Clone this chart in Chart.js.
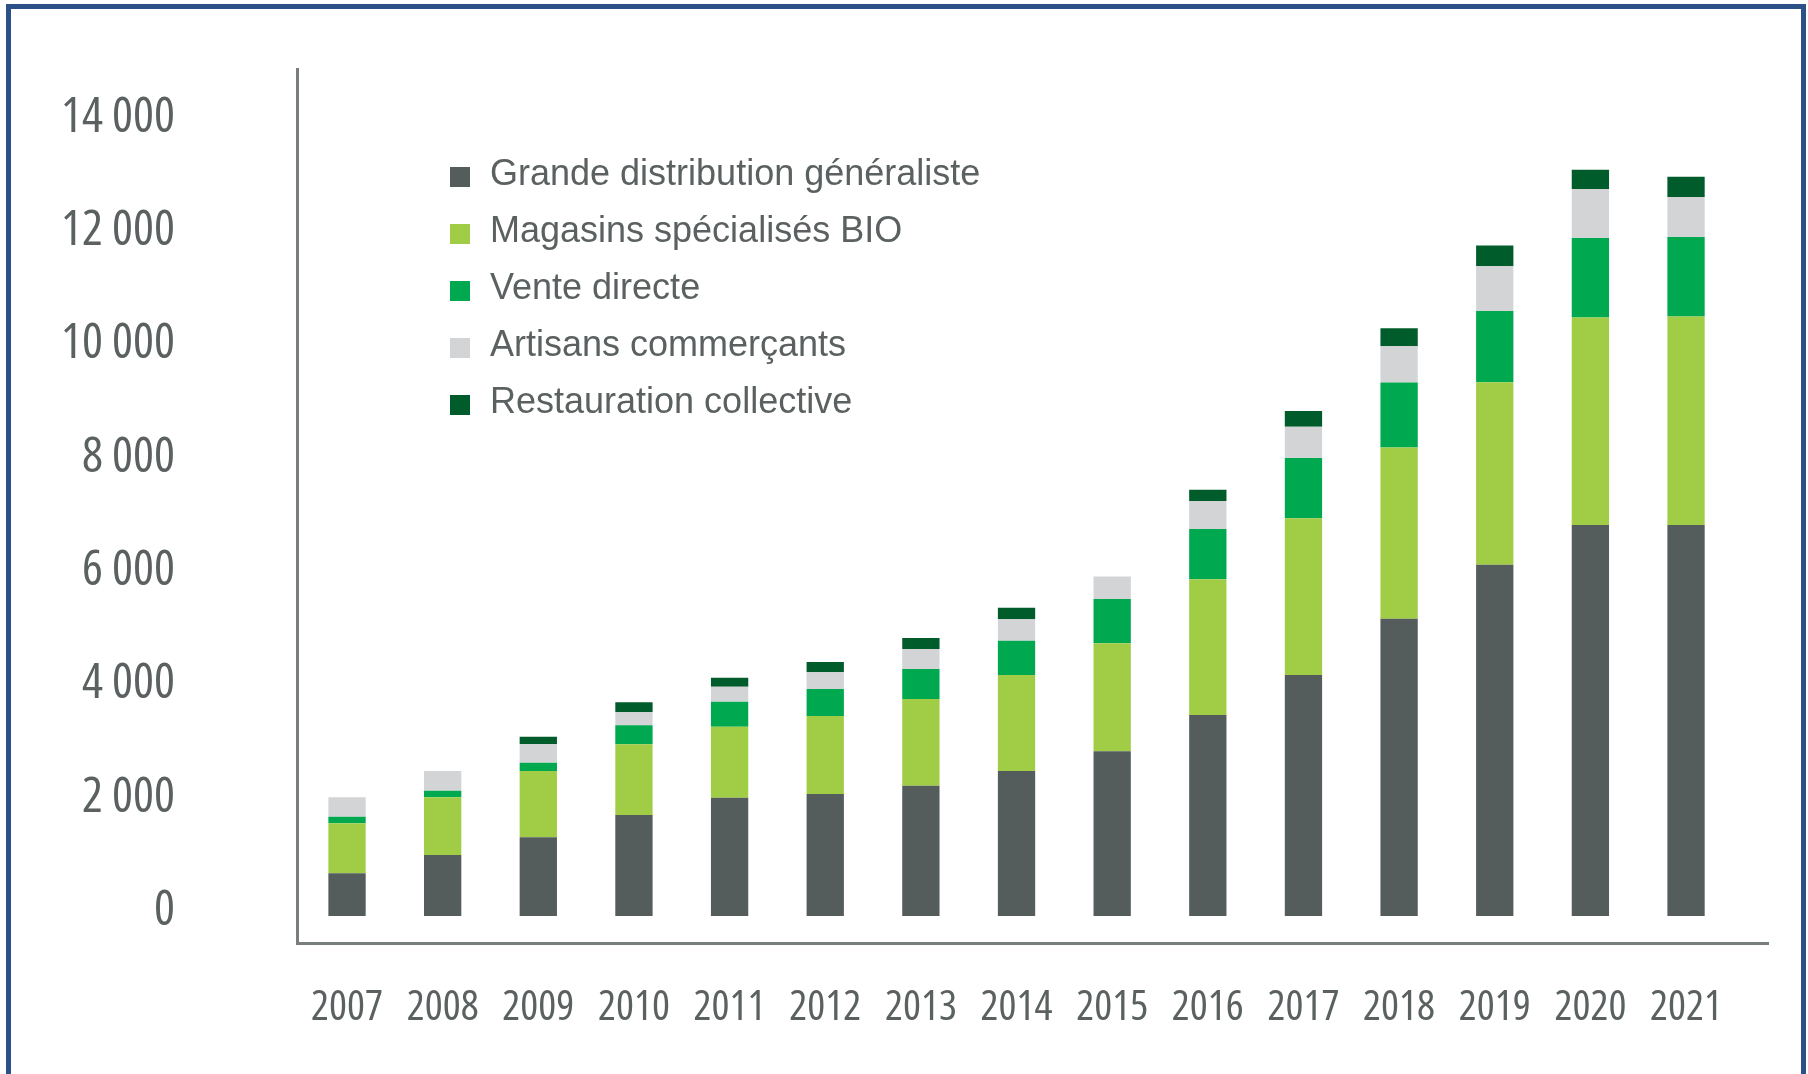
<!DOCTYPE html>
<html>
<head>
<meta charset="utf-8">
<script src="https://cdn.jsdelivr.net/npm/chart.js@4.4.0/dist/chart.umd.min.js"></script>
<style>
  html, body { margin: 0; padding: 0; background: #ffffff; overflow: hidden; width: 1808px; height: 1074px; }
  #frame { position: absolute; left: 6px; top: 4px; width: 1800px; height: 1200px; box-sizing: border-box; border: 5px solid #2c5088; }
  #c { position: absolute; left: 0; top: 0; }
</style>
</head>
<body>
<div id="frame"></div>
<canvas id="c" width="1808" height="1074"></canvas>
<script>
// ---- Data ----
const years = [2007, 2008, 2009, 2010, 2011, 2012, 2013, 2014, 2015, 2016, 2017, 2018, 2019, 2020, 2021];
const grandeDistribution = [754, 1077, 1389, 1783, 2088, 2153, 2300, 2559, 2907, 3546, 4255, 5248, 6199, 6902, 6902];
const magasinsBio        = [882, 1018, 1170, 1248, 1253, 1377, 1530, 1695, 1908, 2396, 2765, 3021, 3223, 3662, 3680];
const venteDirecte       = [117, 117, 147, 335, 441, 476, 530, 605, 780, 887, 1064, 1148, 1256, 1405, 1404];
const artisans           = [342, 347, 330, 229, 265, 295, 353, 378, 397, 496, 553, 638, 791, 861, 703];
const restauration       = [0, 0, 129, 177, 159, 182, 194, 204, 0, 199, 277, 320, 368, 342, 360];
const seriesNames = ['Grande distribution généraliste', 'Magasins spécialisés BIO', 'Vente directe', 'Artisans commerçants', 'Restauration collective'];
const yTickValues = [0, 2000, 4000, 6000, 8000, 10000, 12000, 14000];
const yTickLabels = ['0', '2 000', '4 000', '6 000', '8 000', '10 000', '12 000', '14 000'];

const colors = ['#545c5c', '#a0cd45', '#00a84f', '#d3d4d6', '#005c2a'];
const seriesValues = [grandeDistribution, magasinsBio, venteDirecte, artisans, restauration];

const textColor = '#5b6161';
const axisColor = '#777e7d';

// pick the narrowest available sans face (the reference uses a condensed geometric font)
function pickCondensed(sample) {
  const c = document.createElement('canvas').getContext('2d');
  const cands = [
    { stretch: 'extra-condensed', family: "'Noto Sans'" },
    { stretch: 'condensed', family: "'Noto Sans'" },
    { stretch: '', family: "'Noto Sans ExtraCondensed'" },
    { stretch: '', family: "'Noto Sans Condensed'" },
    { stretch: 'condensed', family: "'Open Sans'" },
    { stretch: '', family: "'Open Sans Condensed'" },
    { stretch: '', family: "'Liberation Sans Narrow'" },
    { stretch: 'condensed', family: "'DejaVu Sans'" },
    { stretch: '', family: "'DejaVu Sans Condensed'" },
    { stretch: '', family: "'Liberation Sans'" }
  ];
  let best = cands[cands.length - 1], bestW = Infinity;
  for (const cd of cands) {
    c.font = '100px monospace';
    c.font = (cd.stretch ? cd.stretch + ' ' : '') + '100px ' + cd.family;
    if (c.font.indexOf('monospace') !== -1) continue;
    const w = c.measureText(sample).width;
    if (w < bestW - 0.5) { bestW = w; best = cd; }
  }
  return { weight: best.stretch ? 'normal ' + best.stretch : 'normal', family: best.family, ratio: bestW / 100 };
}
const cond = pickCondensed('2007');
const xSize = Math.min(72 / cond.ratio, 46);
const ySize = Math.min(117 / (cond.ratio * 6 / 4 * 0.93), 50);

const legendPlugin = {
  id: 'insideLegend',
  afterDraw(chart) {
    const ctx = chart.ctx;
    ctx.save();
    ctx.font = "36px 'Liberation Sans', Arial, sans-serif";
    ctx.textBaseline = 'middle';
    ctx.textAlign = 'left';
    chart.data.datasets.forEach((ds, i) => {
      const cy = 177 + i * 57;
      ctx.fillStyle = ds.backgroundColor;
      ctx.fillRect(450, cy - 10, 20, 20);
      ctx.fillStyle = textColor;
      ctx.fillText(ds.label, 490, cy - 2);
    });
    ctx.restore();
  }
};

const datasets = seriesNames.map((name, s) => ({
  label: name,
  data: years.map((yr, i) => ({ x: yr, y: seriesValues[s][i] })),
  backgroundColor: colors[s],
  borderWidth: 0,
  barPercentage: 0.39,
  categoryPercentage: 1.0
}));

new Chart(document.getElementById('c'), {
  type: 'bar',
  data: { datasets },
  options: {
    responsive: false,
    devicePixelRatio: 1,
    animation: false,
    layout: { padding: { top: 69, right: 40, bottom: 0, left: 0 } },
    plugins: { legend: { display: false }, tooltip: { enabled: false } },
    scales: {
      x: {
        type: 'linear',
        offset: false,
        stacked: true,
        min: 2006.477,
        max: 2021.857,
        afterBuildTicks(scale) { scale.ticks = years.map(v => ({ value: v })); },
        afterFit(scale) { scale.height = 131; scale.paddingLeft = 0; scale.paddingRight = 0; },
        grid: { display: false, drawTicks: false, offset: false },
        border: { display: true, color: axisColor, width: 3 },
        ticks: {
          color: textColor,
          padding: 65 - 0.6 * xSize,
          font: { family: cond.family, weight: cond.weight, size: xSize },
          maxRotation: 0,
          autoSkip: false,
          callback: (v) => String(years[years.indexOf(v)])
        }
      },
      y: {
        stacked: true,
        min: -476,
        max: 14950,
        afterBuildTicks(scale) { scale.ticks = yTickValues.map(v => ({ value: v })); },
        afterFit(scale) { scale.width = 297; scale.paddingTop = 0; scale.paddingBottom = 0; },
        grid: { display: false, drawTicks: false },
        border: { display: true, color: axisColor, width: 3 },
        ticks: {
          color: textColor,
          padding: 122,
          labelOffset: -5,
          font: { family: cond.family, weight: cond.weight, size: ySize },
          callback: (v) => yTickLabels[yTickValues.indexOf(v)]
        }
      }
    }
  },
  plugins: [legendPlugin]
});
</script>
</body>
</html>
